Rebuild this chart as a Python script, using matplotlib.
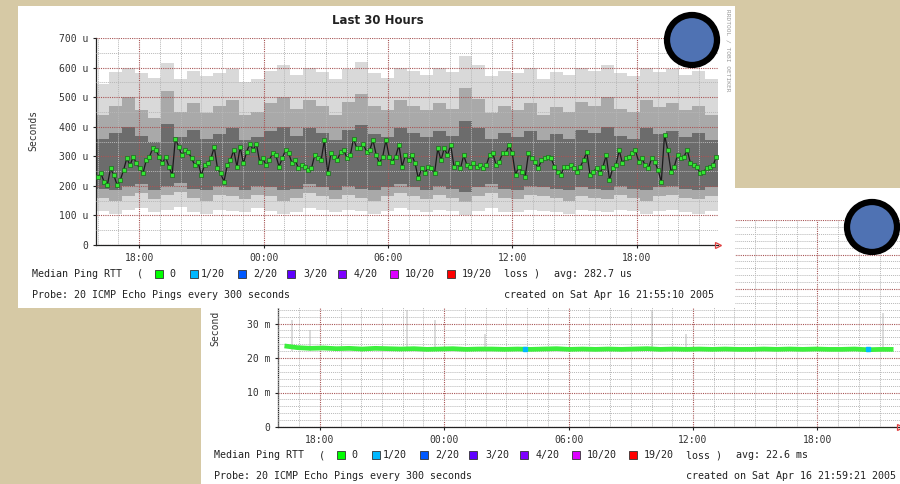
import matplotlib
matplotlib.use("Agg")
import matplotlib.pyplot as plt
from matplotlib.patches import Rectangle, Circle
from matplotlib.ticker import MultipleLocator, FixedLocator, FixedFormatter, FuncFormatter
import numpy as np

W, H = 900, 484
MONO = "DejaVu Sans Mono"

# --- data -------------------------------------------------------------
# x in clock hours (00:00 Apr 16 = 0)
hour_ticks = [-6, 0, 6, 12, 18]
hour_labels = ["18:00", "00:00", "06:00", "12:00", "18:00"]

# top graph: 30 hours up to Sat Apr 16 21:55:10, values in microseconds
top_start, top_end = -(8 + 5 / 60), 21 + 55 / 60
top_median = [
    231, 242, 214, 203, 259, 236, 203, 220, 253, 293, 270, 298, 276, 259, 242, 287,
    298, 327, 321, 298, 276, 298, 265, 236, 360, 332, 304, 321, 315, 293, 270, 281,
    236, 270, 276, 293, 332, 259, 242, 214, 270, 287, 321, 265, 332, 276, 315, 343, 321,
    343, 282, 293, 270, 287, 310, 304, 265, 293, 321, 310, 276, 287, 259, 270, 265,
    253, 259, 304, 293, 287, 355, 242, 310, 299, 287, 315, 321, 293, 304, 360, 327,
    327, 343, 315, 321, 355, 304, 276, 299, 355, 299, 282, 299, 338, 265, 304, 287,
    304, 276, 225, 259, 242, 265, 259, 242, 327, 287, 327, 304, 338, 265, 276, 259,
    304, 270, 265, 276, 265, 270, 259, 270, 304, 310, 270, 282, 310, 310, 338, 310,
    237, 265, 248, 231, 310, 293, 282, 259, 287, 293, 299, 293, 265, 248, 237, 265,
    265, 270, 259, 248, 265, 287, 315, 237, 248, 259, 242, 265, 304, 220, 259, 270,
    321, 276, 293, 299, 310, 321, 282, 293, 270, 259, 293, 282, 253, 214, 372, 321,
    248, 265, 304, 293, 299, 321, 276, 270, 265, 242, 248, 259, 265, 270, 299,
]
# smoke envelope, 48 slots of 37.5 minutes
smoke_top = [545, 585, 600, 580, 565, 615, 560, 590, 570, 580, 595, 550,
             560, 590, 610, 575, 600, 585, 560, 595, 620, 580, 565, 600,
             590, 575, 600, 585, 640, 610, 570, 590, 580, 600, 560, 585,
             575, 600, 590, 610, 580, 570, 600, 585, 595, 575, 590, 560]
smoke_hi = [440, 470, 500, 455, 430, 520, 450, 480, 445, 470, 490, 440,
            450, 480, 500, 460, 490, 470, 440, 485, 510, 470, 455, 490,
            470, 455, 480, 460, 530, 495, 445, 470, 455, 480, 440, 465,
            450, 485, 470, 500, 460, 450, 490, 465, 480, 455, 470, 440]
smoke_core_hi = [360, 380, 400, 370, 350, 410, 365, 390, 360, 375, 395, 355,
                 365, 385, 400, 370, 395, 380, 355, 390, 405, 375, 365, 395,
                 380, 365, 385, 370, 420, 395, 360, 380, 365, 385, 355, 375,
                 360, 390, 380, 400, 370, 360, 395, 375, 385, 365, 380, 355]
smoke_core_lo = [190, 185, 200, 205, 185, 200, 210, 190, 185, 200, 195, 185,
                 200, 195, 185, 190, 205, 195, 185, 200, 190, 185, 195, 205,
                 195, 185, 200, 190, 180, 195, 205, 190, 185, 200, 195, 190,
                 185, 195, 190, 185, 200, 190, 185, 195, 200, 190, 185, 195]
smoke_lo = [160, 150, 165, 175, 155, 170, 180, 160, 150, 170, 165, 155,
            170, 165, 150, 160, 175, 165, 155, 170, 160, 150, 165, 175,
            165, 155, 170, 160, 145, 165, 175, 160, 155, 170, 165, 160,
            150, 165, 160, 155, 170, 160, 150, 165, 170, 160, 155, 165]
smoke_bottom = [115, 105, 120, 125, 110, 120, 130, 110, 105, 120, 115, 110,
                125, 115, 105, 110, 125, 120, 110, 120, 115, 105, 115, 125,
                120, 110, 120, 115, 100, 115, 125, 110, 110, 120, 115, 110,
                105, 120, 115, 110, 120, 115, 105, 115, 120, 110, 105, 115]

# bottom graph: 30 hours up to Sat Apr 16 21:59:21, values in milliseconds
bot_start, bot_end = -(8 + 1 / 60), 21 + 59 / 60
bot_median = [23.5, 23.0, 22.8, 22.9, 22.7, 22.8, 22.6, 22.8, 22.7, 22.6, 22.7, 22.5,
              22.6, 22.7, 22.5, 22.6, 22.6, 22.5, 22.6, 22.5, 22.6, 22.7, 22.5, 22.6,
              22.5, 22.6, 22.5, 22.6, 22.7, 22.5, 22.6, 22.5, 22.6, 22.5, 22.6, 22.5,
              22.5, 22.6, 22.5, 22.6, 22.5, 22.6, 22.5, 22.5, 22.6, 22.4, 22.5, 22.5]
bot_spike_hours = [-7.34, -6.48, -1.80, -0.45, 1.97, 10.02, 11.66, 21.16]
bot_spike_tops = [31, 28, 34, 31, 27, 34, 27, 33]
bot_loss_hours = [3.9, 20.45]
bot_loss_vals = [22.5, 22.5]

loss_labels = ["0", "1/20", "2/20", "3/20", "4/20", "10/20", "19/20"]
loss_colors = ["#00ff00", "#00b8ff", "#0059ff", "#5e00ff", "#7e00ff", "#dd00ff", "#ff0000"]
# pixel x of square centre and label start, for the top graph
loss_sq_x = [159, 194, 242, 291, 342, 394, 451]
loss_txt_x = [169, 201, 253, 303, 354, 405, 462]


def frac(x0, y0, x1, y1):
    return [x0 / W, 1 - y1 / H, (x1 - x0) / W, (y1 - y0) / H]


def canvas(z):
    a = fig.add_axes([0, 0, 1, 1])
    a.set_xlim(0, W)
    a.set_ylim(H, 0)
    a.axis("off")
    a.set_zorder(z)
    a.patch.set_alpha(0)
    return a


def style_plot(ax, start, end, ymax, major, minor, unit, label_max):
    ax.set_xlim(start, end)
    ax.set_ylim(0, ymax)
    ax.xaxis.set_major_locator(FixedLocator(hour_ticks))
    ax.xaxis.set_major_formatter(FixedFormatter(hour_labels))
    ax.xaxis.set_minor_locator(MultipleLocator(1))
    ax.yaxis.set_major_locator(MultipleLocator(major))
    ax.yaxis.set_minor_locator(MultipleLocator(minor))

    def fmt(v, p):
        if v == 0:
            return "0"
        if v > label_max:
            return ""  # covered by the front graph anyway
        return f"{v:.0f} {unit}"

    ax.yaxis.set_major_formatter(FuncFormatter(fmt))
    ax.set_axisbelow(False)
    ax.grid(which="major", color="#a85555", linestyle=(0, (1, 1)), lw=0.8)
    ax.grid(which="minor", color="#b8b8b8", linestyle=(0, (1, 1)), lw=0.7)
    for s in ["top", "right"]:
        ax.spines[s].set_visible(False)
    for s in ["left", "bottom"]:
        ax.spines[s].set_color("#222222")
        ax.spines[s].set_linewidth(0.9)
    ax.tick_params(which="minor", length=0)
    ax.tick_params(which="major", length=2.5, width=0.8, color="#222222",
                   labelsize=7, labelcolor="#333333", pad=3)
    for lab in ax.get_xticklabels() + ax.get_yticklabels():
        lab.set_fontfamily(MONO)
    ax.plot([end], [0], marker=">", ms=5, mfc="none", mec="#e04040", mew=0.9,
            clip_on=False, zorder=5)


def legend_rows(c, dx, dy, avg, created):
    y1 = 274 + dy
    c.text(32 + dx, y1, "Median Ping RTT", fontsize=7.2, family=MONO, va="center", color="#222")
    c.text(137 + dx, y1, "(", fontsize=7.2, family=MONO, va="center", color="#222")
    for lab, col, sx, tx in zip(loss_labels, loss_colors, loss_sq_x, loss_txt_x):
        c.add_patch(Rectangle((sx - 4 + dx, y1 - 4), 8, 8, facecolor=col,
                              edgecolor="#333333", lw=0.6))
        c.text(tx + dx, y1, lab, fontsize=7.2, family=MONO, va="center", color="#222")
    c.text(504 + dx, y1, "loss )", fontsize=7.2, family=MONO, va="center", color="#222")
    c.text(554 + dx, y1, avg, fontsize=7.2, family=MONO, va="center", color="#222")
    y2 = 295 + dy
    c.text(32 + dx, y2, "Probe: 20 ICMP Echo Pings every 300 seconds",
           fontsize=7.2, family=MONO, va="center", color="#222")
    c.text(504 + dx, y2, created, fontsize=7.2, family=MONO, va="center", color="#222")


fig = plt.figure(figsize=(W / 100, H / 100), dpi=100)
fig.patch.set_facecolor("#d6c9a5")

# --- bottom graph (behind) ---------------------------------------------
c0 = canvas(0)
c0.add_patch(Rectangle((201, 188), 717, 302, facecolor="white", edgecolor="none"))
c0.text(215, 328, "Second", rotation=90, fontsize=7, family=MONO, ha="center",
        va="center", color="#333")
legend_rows(c0, 182, 181, "avg: 22.6 ms", "created on Sat Apr 16 21:59:21 2005")

ax2 = fig.add_axes(frac(278, 220, 900, 427))
ax2.set_zorder(1)
ax2.set_facecolor("white")
ax2.vlines(bot_spike_hours, 22, bot_spike_tops, color="#d6d6d6", lw=1.2, zorder=1)
bstep = (bot_end - bot_start) / len(bot_median)
bt = bot_start + bstep * (np.arange(len(bot_median)) + 0.5)
ax2.plot(bt, bot_median, color="#3def3d", lw=3.4, solid_capstyle="butt", zorder=3)
ax2.plot(bot_loss_hours, bot_loss_vals, "s", ms=2.5, color="#00b8ff", zorder=4)
style_plot(ax2, bot_start, bot_end, 60, 10, 2, "m", 30)

# --- top graph (front) -------------------------------------------------
c1 = canvas(2)
c1.add_patch(Rectangle((18, 6), 717, 302, facecolor="white", edgecolor="none"))
c1.text(378, 20, "Last 30 Hours", fontsize=8.5, fontweight="bold", ha="center",
        va="center", color="#222")
c1.text(33, 130, "Seconds", rotation=90, fontsize=7, family=MONO, ha="center",
        va="center", color="#333")
c1.text(728, 50, "RRDTOOL / TOBI OETIKER", rotation=270, fontsize=4.5, family=MONO,
        ha="center", va="center", color="#999999")
legend_rows(c1, 0, 0, "avg: 282.7 us", "created on Sat Apr 16 21:55:10 2005")

ax1 = fig.add_axes(frac(96, 38, 718, 245))
ax1.set_zorder(3)
ax1.set_facecolor("white")
n = len(smoke_top)
step = (top_end - top_start) / n
sc = top_start + step * (np.arange(n) + 0.5)
st, sh, sch = np.array(smoke_top), np.array(smoke_hi), np.array(smoke_core_hi)
scl, sl, sb = np.array(smoke_core_lo), np.array(smoke_lo), np.array(smoke_bottom)
ax1.bar(sc, st - sb, bottom=sb, width=step, color="#d9d9d9", lw=0, zorder=1)
ax1.bar(sc, sh - sl, bottom=sl, width=step, color="#a9a9a9", lw=0, zorder=1)
ax1.bar(sc, sch - scl, bottom=scl, width=step, color="#6c6c6c", lw=0, zorder=1)
mstep = (top_end - top_start) / len(top_median)
mt = top_start + mstep * (np.arange(len(top_median)) + 0.5)
ax1.plot(mt, top_median, color="#1a1a1a", lw=0.9, zorder=3)
ax1.plot(mt, top_median, "s", ms=2.8, mfc="#33e633", mec="#1d6a1d", mew=0.5, zorder=4)
style_plot(ax1, top_start, top_end, 700, 100, 50, "u", 700)

# --- blue dots ---------------------------------------------------------
c2 = canvas(10)
for cx, cy in [(692, 40), (872, 227)]:
    c2.add_patch(Circle((cx, cy), 25, facecolor="#4f72b3", edgecolor="black", lw=4.5))

fig.savefig("out.png", dpi=100, facecolor=fig.get_facecolor())
